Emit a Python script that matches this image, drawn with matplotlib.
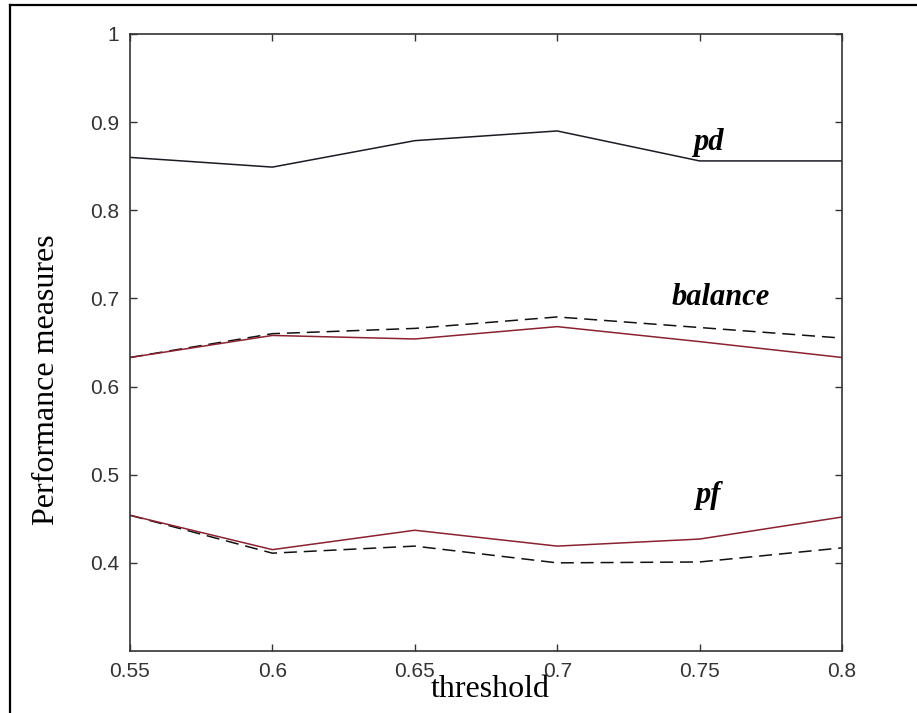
import matplotlib
matplotlib.use('Agg')
import matplotlib.pyplot as plt
from matplotlib.lines import Line2D

# threshold sweep and the resulting measures
threshold = [0.55, 0.60, 0.65, 0.70, 0.75, 0.80]
pd_vals = [0.860, 0.849, 0.879, 0.890, 0.856, 0.856]
balance_a = [0.633, 0.658, 0.654, 0.668, 0.651, 0.633]
balance_b = [0.633, 0.660, 0.666, 0.679, 0.667, 0.655]
pf_a = [0.454, 0.415, 0.437, 0.419, 0.427, 0.452]
pf_b = [0.454, 0.411, 0.419, 0.400, 0.401, 0.417]

xticks = [0.55, 0.6, 0.65, 0.7, 0.75, 0.8]
xticklabels = ['0.55', '0.6', '0.65', '0.7', '0.75', '0.8']
yticks = [0.4, 0.5, 0.6, 0.7, 0.8, 0.9, 1.0]
yticklabels = ['0.4', '0.5', '0.6', '0.7', '0.8', '0.9', '1']

W, H = 917, 713
fig = plt.figure(figsize=(W / 100, H / 100), dpi=100)
ax = fig.add_axes([130 / W, 1 - 651 / H, (842 - 130) / W, (651 - 34) / H])

maroon = '#8a2232'
dash = (0, (8.5, 4.5))
ax.plot(threshold, pd_vals, color='#1e1a22', lw=1.1)
ax.plot(threshold, balance_b, color='#111111', lw=1.1, linestyle=dash)
ax.plot(threshold, balance_a, color=maroon, lw=1.1)
ax.plot(threshold, pf_b, color='#111111', lw=1.1, linestyle=dash)
ax.plot(threshold, pf_a, color=maroon, lw=1.1)

ax.set_xlim(0.55, 0.8)
ax.set_ylim(0.3, 1.0)
ax.set_xticks(xticks)
ax.set_xticklabels(xticklabels)
ax.set_yticks(yticks)
ax.set_yticklabels(yticklabels)
ax.tick_params(direction='in', length=5, width=1, color='#333333',
               top=True, right=True, pad=8, labelsize=15,
               labelcolor='#333333')
for lab in ax.get_xticklabels() + ax.get_yticklabels():
    lab.set_family(['Liberation Sans Narrow', 'Liberation Sans'])
for sp in ax.spines.values():
    sp.set_color('#333333')
    sp.set_linewidth(1.2)

# curve names
lbl = dict(family='Liberation Serif', style='italic', weight='bold',
           fontsize=22, ha='center', va='baseline')
ax.text(0.753, 0.8685, 'pd', **lbl)
ax.text(0.7575, 0.6927, 'balance', **lbl)
ax.text(0.7528, 0.468, 'pf', **lbl)

fig.text(490 / W, 1 - 697 / H, 'threshold', family='Liberation Serif',
         fontsize=23, ha='center', va='baseline')
fig.text(61 / W, 1 - 380 / H, 'Performance measures', family='Liberation Serif',
         fontsize=23, rotation=90, ha='right', va='center')

# frame around the figure (top and left edges only)
fig.add_artist(Line2D([10 / W, 1.0], [1 - 5 / H, 1 - 5 / H],
                      transform=fig.transFigure, color='black', lw=1.6))
fig.add_artist(Line2D([10 / W, 10 / W], [0.0, 1 - 5 / H],
                      transform=fig.transFigure, color='black', lw=1.6))

fig.savefig('out.png', dpi=100)
